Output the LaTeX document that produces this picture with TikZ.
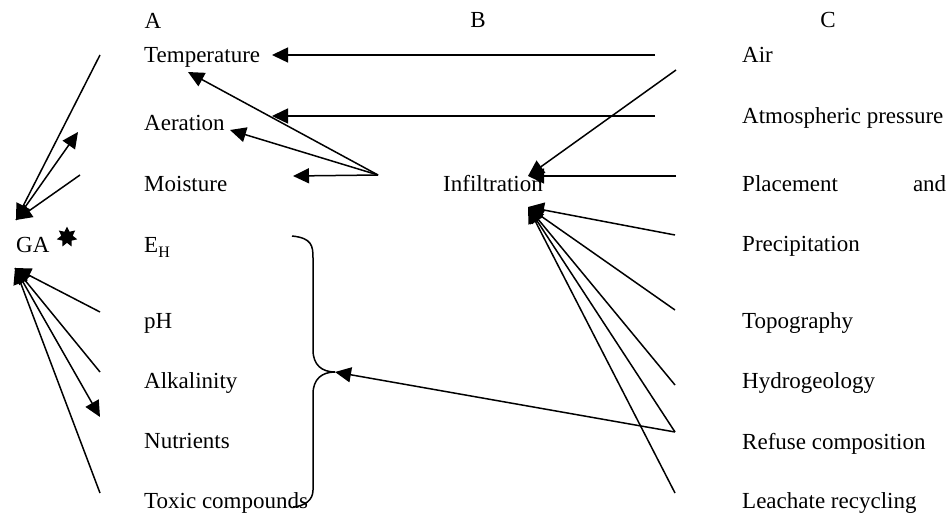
\documentclass[tikz,border=0pt]{standalone}
\usepackage{fontspec}
\setmainfont{Liberation Serif}
\usetikzlibrary{arrows.meta,shapes.geometric}
\begin{document}
\begin{tikzpicture}[x=1pt,y=-1pt,
  lbl/.style={anchor=base west,inner sep=0pt,font=\fontsize{23}{27}\selectfont},
  hdr/.style={anchor=base,inner sep=0pt,font=\fontsize{23}{27}\selectfont},
  ln/.style={line width=1.5pt},
  con/.style={line width=1.5pt,-{Triangle[length=16pt,width=15pt]}}]
\useasboundingbox (0,0) rectangle (949,513);
% headers
\node[hdr] (hA) at (153,29) {A};
\node[hdr] (hB) at (478,28) {B};
\node[hdr] (hC) at (828,28) {C};
% column A
\node[lbl] (temp) at (144,63) {Temperature};
\node[lbl] (aer) at (144,131) {Aeration};
\node[lbl] (moi) at (144,191) {Moisture};
\node[lbl] (eh) at (144,252) {E\raisebox{-5pt}{\fontsize{16}{16}\selectfont H}};
\node[lbl] (ph) at (144,328) {pH};
\node[lbl] (alk) at (144,388) {Alkalinity};
\node[lbl] (nut) at (144,448) {Nutrients};
\node[lbl] (tox) at (144,508) {Toxic compounds};
% GA
\node[lbl] (ga) at (16,252) {GA};
\node[star,star points=7,star point ratio=1.8,fill=black,minimum size=21pt,inner sep=0pt] (st) at (67,237) {};
% B
\node[lbl] (inf) at (443,191) {Infiltration};
% column C
\node[lbl] (air) at (742,63) {Air};
\node[lbl] (atm) at (742,124) {Atmospheric pressure};
\node[lbl] (pla) at (742,191) {\makebox[204pt][l]{Placement\hfill and}};
\node[lbl] (pre) at (742,251) {Precipitation};
\node[lbl] (top) at (742,328) {Topography};
\node[lbl] (hyd) at (742,388) {Hydrogeology};
\node[lbl] (ref) at (742,449) {Refuse composition};
\node[lbl] (lea) at (742,508) {Leachate recycling};
% connector points
\coordinate (airS) at (655,55);
\coordinate (atmS) at (655,116);
\coordinate (airD) at (676,70);
\coordinate (plS) at (676,176);
\coordinate (inT) at (528,176);
\coordinate (tempT) at (272,55);
\coordinate (aerT) at (272,116);
\coordinate (mS) at (378,175);
\coordinate (tempT2) at (188,72);
\coordinate (aerT2) at (230,130);
\coordinate (moiT) at (293,176);
\coordinate (gaU) at (16,220);
\coordinate (t1) at (100,55);
\coordinate (u2) at (78,132);
\coordinate (t3) at (80,175);
\coordinate (gaL) at (15,268);
\coordinate (p1) at (100,312);
\coordinate (p2) at (100,372);
\coordinate (p3) at (100,417);
\coordinate (p4) at (100,493);
\coordinate (inL) at (528,207);
\coordinate (r1) at (675,235);
\coordinate (r2) at (675,310);
\coordinate (r3) at (675,385);
\coordinate (r4) at (675,432);
\coordinate (r5) at (675,493);
\coordinate (brk) at (335,372);
% upper arrows
\draw[con] (airS) -- (tempT);
\draw[con] (atmS) -- (aerT);
\draw[con] (airD) -- (inT);
\draw[con] (plS) -- (inT);
\draw[con] (mS) -- (tempT2);
\draw[con] (mS) -- (aerT2);
\draw[con] (mS) -- (moiT);
% GA arrows
\draw[con] (t1) -- (gaU);
\draw[con] (gaU) -- (u2);
\draw[con] (t3) -- (gaU);
\draw[con] (p1) -- (gaL);
\draw[con] (p2) -- (gaL);
\draw[con] (gaL) -- (p3);
\draw[con] (p4) -- (gaL);
% infiltration lower arrows
\draw[con] (r1) -- (inL);
\draw[con] (r2) -- (inL);
\draw[con] (r3) -- (inL);
\draw[con] (r4) -- (inL);
\draw[con] (r5) -- (inL);
% brace
\draw[ln] (292,236) .. controls (312,238) and (313,246) .. (313,258) -- (313,350)
  .. controls (313,365) and (322,372) .. (brk)
  .. controls (322,372) and (313,379) .. (313,394) -- (313,490)
  .. controls (313,500) and (305,506) .. (293,507);
\draw[con] (r4) -- (brk);
\end{tikzpicture}
\end{document}
